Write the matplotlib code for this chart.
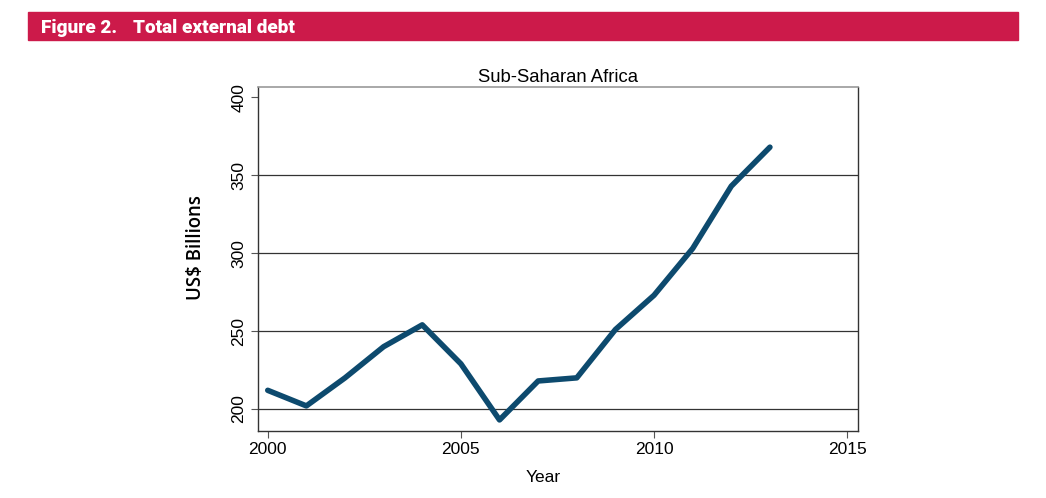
import matplotlib
matplotlib.use("Agg")
import matplotlib.pyplot as plt
from matplotlib.patches import Rectangle

years = [2000, 2001, 2002, 2003, 2004, 2005, 2006, 2007, 2008, 2009, 2010, 2011, 2012, 2013]
debt = [212, 202, 220, 240, 254, 229, 193, 218, 220, 251, 273, 303, 343, 368]
xticks = [2000, 2005, 2010, 2015]
yticks = [200, 250, 300, 350, 400]
grid_vals = [200, 250, 300, 350]

W, H = 1046, 498
fig = plt.figure(figsize=(W / 100, H / 100), dpi=100)

# header bar
fig.patches.append(Rectangle((28 / W, 1 - 40 / H), (1018 - 28) / W, 28 / H,
                             transform=fig.transFigure, color="#CC1A4A", zorder=0))
hdr_font = ["Roboto", "DejaVu Sans"]
fig.text(41 / W, 1 - 33.3 / H, "Figure 2.", color="white", fontsize=13.6,
         fontweight="black", family=hdr_font, va="baseline", ha="left")
fig.text(133 / W, 1 - 33.3 / H, "Total external debt", color="white", fontsize=13.6,
         fontweight="black", family=hdr_font, va="baseline", ha="left")

left, right, top, bottom = 257.7, 858, 86.7, 431
ax = fig.add_axes([left / W, 1 - bottom / H, (right - left) / W, (bottom - top) / H])
ax.plot(years, debt, color="#0D4A6E", lw=4.0, solid_capstyle="round", solid_joinstyle="round", zorder=3)
for g in grid_vals:
    ax.axhline(g, color="#333333", lw=0.9, zorder=1)
ax.set_xlim(1999.74, 2015.28)
ax.set_ylim(185.9, 406.8)
ax.set_xticks(xticks)
ax.set_yticks(yticks)
ax.set_xticklabels([str(t) for t in xticks], family="Liberation Sans", fontsize=12.5)
ax.set_yticklabels([str(t) for t in yticks], family="Liberation Sans", fontsize=12.5,
                   rotation=90, va="center")
ax.tick_params(axis="both", length=5, width=0.8, color="#555555", pad=3)
for s in ["left", "bottom", "right"]:
    ax.spines[s].set_color("#333333")
    ax.spines[s].set_linewidth(1.0)
ax.spines["top"].set_color("#999999")
ax.spines["top"].set_linewidth(1.2)

fig.text(557.5 / W, 1 - 81.7 / H, "Sub-Saharan Africa", family="Liberation Sans",
         fontsize=13.3, ha="center", va="baseline")
fig.text(543 / W, 1 - 482 / H, "Year", family="Liberation Sans", fontsize=12.5,
         ha="center", va="baseline")
fig.text(196 / W, 1 - 247.5 / H, "US$ Billions", family=["Open Sans", "DejaVu Sans"],
         fontsize=13.4, fontweight="semibold", rotation=90, ha="center", va="center")

fig.savefig("out.png", dpi=100)
